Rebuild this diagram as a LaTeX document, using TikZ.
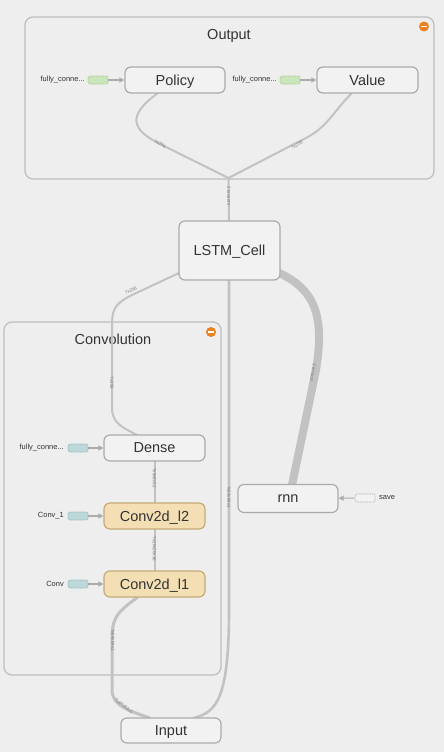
\documentclass[tikz,border=0pt]{standalone}
\usepackage{fontspec}
\setmainfont{Liberation Sans}
\usetikzlibrary{calc,arrows.meta}
\definecolor{bgc}{HTML}{EEEEEE}
\definecolor{nodefill}{HTML}{F2F2F2}
\definecolor{nodeborder}{HTML}{ABABAB}
\definecolor{clborder}{HTML}{BDBDBD}
\definecolor{edgec}{HTML}{C2C2C2}
\definecolor{lblc}{HTML}{7A7A7A}
\definecolor{tanfill}{HTML}{F3DFB3}
\definecolor{tanborder}{HTML}{C4AB78}
\definecolor{greenfill}{HTML}{C9E5B9}
\definecolor{greenborder}{HTML}{9CC489}
\definecolor{bluefill}{HTML}{BDD8D8}
\definecolor{blueborder}{HTML}{8DB5B5}
\definecolor{iconc}{HTML}{E8821E}
\definecolor{textc}{HTML}{333333}
\tikzset{
  opnode/.style={draw=nodeborder, fill=nodefill, rounded corners=6pt, line width=1.2pt,
    minimum width=100pt, minimum height=26pt, inner sep=0pt, text depth=0pt, font=\fontsize{14.5}{16}\selectfont, text=textc},
  tannode/.style={opnode, fill=tanfill, draw=tanborder},
  cluster/.style={draw=clborder, fill=bgc, rounded corners=8pt, line width=1.2pt, inner sep=0pt},
  cltitle/.style={font=\fontsize{14.5}{16}\selectfont, text=textc, inner sep=0pt, text depth=0pt},
  edge/.style={draw=edgec, line width=2pt},
  elbl/.style={font=\fontsize{4.5}{5}\selectfont, text=lblc, inner sep=0.5pt},
  smalltxt/.style={font=\fontsize{7.5}{8}\selectfont, text=textc, inner sep=0pt},
  greenpill/.style={draw=greenborder, dashed, dash pattern=on 1pt off 0.8pt, fill=greenfill, rounded corners=2pt,
    minimum width=20pt, minimum height=8pt, inner sep=0pt, line width=0.6pt},
  bluepill/.style={greenpill, draw=blueborder, fill=bluefill},
  whitepill/.style={greenpill, draw=nodeborder, fill=nodefill},
  inarrow/.style={draw=nodeborder, line width=1.1pt, -{Triangle[length=5pt,width=5pt]}},
  icon/.style={circle, fill=iconc, inner sep=0pt, minimum size=10pt},
}
\begin{document}
\begin{tikzpicture}[x=1pt,y=-1pt]
\useasboundingbox[fill=bgc] (0,0) rectangle (444,752);

% clusters
\node[cluster, minimum width=409pt, minimum height=162pt] (outc) at (229.5,98) {};
\node[cltitle] (outt) at (229,34) {Output};
\node[icon] (outicon) at (424,26.5) {};
\draw[white, line width=1.6pt] ($(outicon.west)+(2.2,0)$) -- ($(outicon.east)+(-2.2,0)$);

\node[cluster, minimum width=217pt, minimum height=353pt] (convc) at (112.5,498.5) {};
\node[cltitle] (convt) at (113,339) {Convolution};
\node[icon] (convicon) at (211,332) {};
\draw[white, line width=1.6pt] ($(convicon.west)+(2.2,0)$) -- ($(convicon.east)+(-2.2,0)$);

% edges (drawn under nodes)
\coordinate (j) at (228.5,178);
\coordinate (pol-s) at (158,93);
\coordinate (val-s) at (352,93);
\draw[edge] (pol-s) .. controls (126,116) and (132,130) .. (160,144) -- (j);
\draw[edge] (val-s) .. controls (330,115) and (328,128) .. (300,141) -- (j);
\node[elbl, rotate=-27] (lp) at (160,144) {?x256};
\node[elbl, rotate=27] (lv) at (297,145) {?x256};
\coordinate (lstm-n) at (229,221);
\draw[edge] (j) -- (lstm-n);
\node[elbl, rotate=-90] (lj) at (229,196) {2 tensors};

\coordinate (lstm-sw) at (179,273);
\coordinate (dense-n) at (137,435);
\draw[edge] (lstm-sw) -- (132,295) .. controls (114,304) and (112,310) .. (112,326) -- (112,408) .. controls (112,424) and (124,428) .. (dense-n);
\node[elbl, rotate=25] (ld1) at (131,291) {?x256};
\node[elbl, rotate=-90] (ld2) at (112,383) {?x256};

\coordinate (lstm-s) at (229,280);
\coordinate (in-ne) at (194,718);
\draw[edge, line width=2.6pt] (lstm-s) -- (229,610) .. controls (229,700) and (216,712) .. (in-ne);
\node[elbl, rotate=-90] (li) at (229,497) {?x64x64x1};

\coordinate (l1-s) at (138,597);
\coordinate (in-nw) at (150,718);
\draw[edge, line width=3pt] (l1-s) .. controls (114,614) and (112,620) .. (112,642) -- (112,690) .. controls (112,706) and (130,711) .. (in-nw);
\node[elbl, rotate=-90] (li1) at (113,640) {?x64x64x1};
\node[elbl, rotate=-38] (li2) at (124,706) {?x64x64x1};

\coordinate (lstm-se) at (277,272);
\coordinate (rnn-n) at (292,485);
\draw[edge, line width=8pt] (lstm-se) .. controls (318,290) and (324,320) .. (316,370) -- (rnn-n);
\node[elbl, rotate=-100] (lr) at (313,373) {2 tensors};

\coordinate (dense-s) at (154.5,461);
\coordinate (l2-n) at (154.5,503);
\draw[edge] (dense-s) -- (l2-n);
\node[elbl, rotate=-90] (ll2) at (154.5,478) {?x8x8x32};
\coordinate (l2-s) at (154.5,529);
\coordinate (l1-n) at (154.5,571);
\draw[edge] (l2-s) -- (l1-n);
\node[elbl, rotate=-90] (ll1) at (154.5,549) {?x20x20x16};

% op nodes
\node[opnode] (policy) at (175,80) {Policy};
\node[opnode, minimum width=101pt] (value) at (367.5,80) {Value};
\node[opnode, minimum width=101pt, minimum height=59pt] (lstm) at (229.5,250.5) {LSTM\_Cell};
\node[opnode, minimum width=101pt] (dense) at (154.5,448) {Dense};
\node[tannode, minimum width=101pt] (conv2) at (154.5,516) {Conv2d\_l2};
\node[tannode, minimum width=101pt] (conv1) at (154.5,584) {Conv2d\_l1};
\node[opnode, minimum height=28pt] (rnn) at (288,498.5) {rnn};
\node[opnode, minimum height=25pt] (input) at (171,730.5) {Input};

% input stubs
\node[smalltxt, anchor=east] (fc1t) at (85,80) {fully\_conne...};
\node[greenpill] (fc1) at (98,80) {};
\draw[inarrow] (fc1) -- (policy);
\node[smalltxt, anchor=east] (fc2t) at (277,80) {fully\_conne...};
\node[greenpill] (fc2) at (290,80) {};
\draw[inarrow] (fc2) -- (value);

\node[smalltxt, anchor=east] (fc3t) at (64,448) {fully\_conne...};
\node[bluepill] (fc3) at (78,448) {};
\draw[inarrow] (fc3) -- (dense);
\node[smalltxt, anchor=east] (c1t) at (64,516) {Conv\_1};
\node[bluepill] (c1p) at (78,516) {};
\draw[inarrow] (c1p) -- (conv2);
\node[smalltxt, anchor=east] (c0t) at (64,584) {Conv};
\node[bluepill] (c0p) at (78,584) {};
\draw[inarrow] (c0p) -- (conv1);

\node[whitepill] (savep) at (365,498) {};
\node[smalltxt, anchor=west] (savet) at (379,498) {save};
\draw[inarrow] (savep) -- (rnn);
\end{tikzpicture}
\end{document}
